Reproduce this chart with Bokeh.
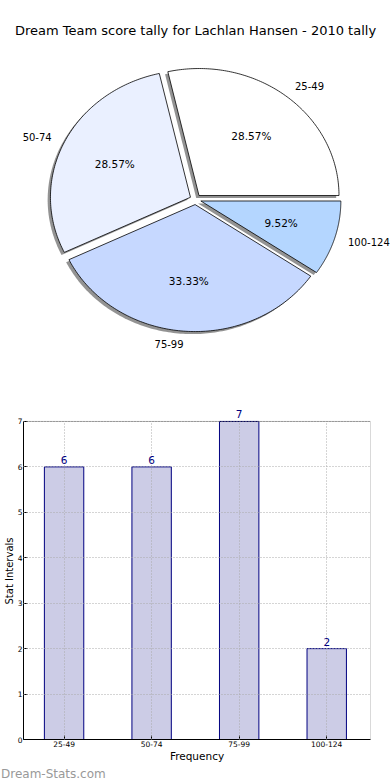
import numpy as np
from bokeh.plotting import figure
from bokeh.layouts import column
from bokeh.models import (Range1d, ColumnDataSource, LabelSet, FixedTicker,
                          BoxAnnotation, Title)
from bokeh.embed import file_html
from bokeh.resources import INLINE
from bokeh.core.properties import value

# ---------------- data ----------------
title = "Dream Team score tally for Lachlan Hansen - 2010 tally"
categories = ["25-49", "50-74", "75-99", "100-124"]
counts = [6, 6, 7, 2]
pie_colors = ["#ffffff", "#eaf0ff", "#c6d8ff", "#b4d6ff"]
y_ticks = [0, 1, 2, 3, 4, 5, 6, 7]
y_max = 7
x_label = "Frequency"
y_label = "Stat Intervals"
watermark = "Dream-Stats.com"

FONT = "DejaVu Sans"
W = 390
H1 = 400
H2 = 380

# ---------------- pie figure ----------------
CX, CY = 195, 199      # pie centre (px)
RX, RY = 140, 127      # px per unit radius (axes not square in the original)
p1 = figure(width=W, height=H1, output_backend="svg", toolbar_location=None,
            x_range=Range1d(-CX / RX, (W - CX) / RX),
            y_range=Range1d(-(H1 - CY) / RY, CY / RY),
            x_axis_type=None, y_axis_type=None, min_border=0)
p1.grid.visible = False
p1.outline_line_color = None

total = float(sum(counts))
fracs = np.array(counts) / total
ends = np.cumsum(fracs) * 2 * np.pi
starts = ends - fracs * 2 * np.pi
explode = 0.04
wx, wy, sx, sy = [], [], [], []
lx, ly, lalign, px_, py_ = [], [], [], [], []
for a0, a1 in zip(starts, ends):
    mid = (a0 + a1) / 2
    ox, oy = explode * np.cos(mid), explode * np.sin(mid)
    th = np.linspace(a0, a1, 120)
    xx = np.concatenate([[ox], ox + np.cos(th), [ox]])
    yy = np.concatenate([[oy], oy + np.sin(th), [oy]])
    wx.append(xx); wy.append(yy)
    sx.append(xx - 0.02); sy.append(yy - 0.02)
    tx = ox + 1.1 * np.cos(mid)
    lx.append(tx); ly.append(oy + 1.1 * np.sin(mid))
    lalign.append("left" if tx > 0 else "right")
    px_.append(ox + 0.6 * np.cos(mid)); py_.append(oy + 0.6 * np.sin(mid))

p1.patches(sx, sy, fill_color="#3a3a3a", fill_alpha=0.55, line_color=None)
p1.patches(wx, wy, fill_color=pie_colors, line_color="black", line_width=0.8)

pct = ["%.2f%%" % (100 * f) for f in fracs]
p1.text(x=px_, y=py_, text=pct, text_align="center", text_baseline="middle",
        text_font=value(FONT), text_font_size="10.5px", text_color="black")
src_lab = ColumnDataSource(dict(x=lx, y=ly, t=categories, a=lalign))
p1.text(x="x", y="y", text="t", text_align="a", text_baseline="middle",
        source=src_lab, text_font=value(FONT), text_font_size="10px",
        text_color="black")
p1.text(x=[0], y=[(CY - 30) / RY], text=[title], text_align="center",
        text_baseline="middle", text_font=value(FONT), text_font_size="13px",
        text_color="black")

# ---------------- bar figure ----------------
BL, BR, BT, BB = 19, 20, 2, 40
PLOT_TOP = 21          # px from top of this figure where y = y_max lies
AXIS_LEFT = 19.3       # px where x = -0.5 should lie
FRAME_LEFT = 22.5      # px where Bokeh puts the frame (axis + label need it)
frame_h = H2 - BT - BB
y_end = y_max * frame_h / (H2 - PLOT_TOP - BB)
px_per_x = (W - BR - AXIS_LEFT) / 4.0
x_start = -0.5 + (FRAME_LEFT - AXIS_LEFT) / px_per_x
p2 = figure(width=W, height=H2, output_backend="svg", toolbar_location=None,
            x_range=Range1d(x_start, 3.5), y_range=Range1d(0, y_end),
            min_border_left=BL, min_border_right=BR,
            min_border_top=BT, min_border_bottom=BB)
for fig in (p1, p2):
    if "frame_align" in fig.properties():
        fig.frame_align = False
xpos = list(range(len(categories)))
src = ColumnDataSource(dict(x=xpos, top=counts, lab=[str(c) for c in counts]))
p2.vbar(x="x", top="top", width=0.45, source=src, fill_color="#cccce6",
        line_color="#000080", line_width=1)

p2.xaxis.ticker = FixedTicker(ticks=xpos)
p2.xaxis.major_label_overrides = {i: c for i, c in zip(xpos, categories)}
p2.yaxis.ticker = FixedTicker(ticks=y_ticks)
p2.yaxis.bounds = (0, y_max)
p2.xaxis.axis_label = x_label
p2.yaxis.axis_label = y_label
for ax in p2.axis:
    ax.major_label_text_font = FONT
    ax.major_label_text_font_size = "7.5px"
    ax.major_label_text_color = "black"
    ax.major_tick_in = 4
    ax.major_tick_out = 0
    ax.minor_tick_in = 0
    ax.minor_tick_out = 0
    ax.major_label_standoff = 1
    ax.axis_line_color = "black"
    ax.major_tick_line_color = "black"
    ax.axis_label_text_font = FONT
    ax.axis_label_text_font_style = "normal"
    ax.axis_label_text_color = "black"
    ax.axis_label_standoff = 0
p2.xaxis.axis_label_text_font_size = "10.5px"
p2.yaxis.axis_label_text_font_size = "10px"
p2.outline_line_color = None
p2.grid.grid_line_color = "#aaaaaa"
p2.grid.grid_line_dash = "1 2"
p2.grid.level = "guide"
for g in p2.xgrid:
    if "cross_bounds" in g.properties():
        g.cross_bounds = (0, y_max)
p2.add_layout(BoxAnnotation(left=x_start, right=3.5, bottom=0, top=y_max,
                            fill_alpha=0, line_color="black", line_width=1,
                            level="guide"))

p2.add_layout(LabelSet(x="x", y="top", text="lab", source=src, y_offset=3,
                       text_align="center", text_baseline="bottom",
                       text_font=value(FONT), text_font_size="10.5px",
                       text_color="#000080"))
p2.add_layout(Title(text=watermark, align="left", offset=-FRAME_LEFT, standoff=0,
                    text_font=FONT, text_font_size="12px",
                    text_font_style="normal", text_color="#999999"), "below")

layout = column(p1, p2, spacing=0)
open("out.html", "w").write(file_html(layout, INLINE))
